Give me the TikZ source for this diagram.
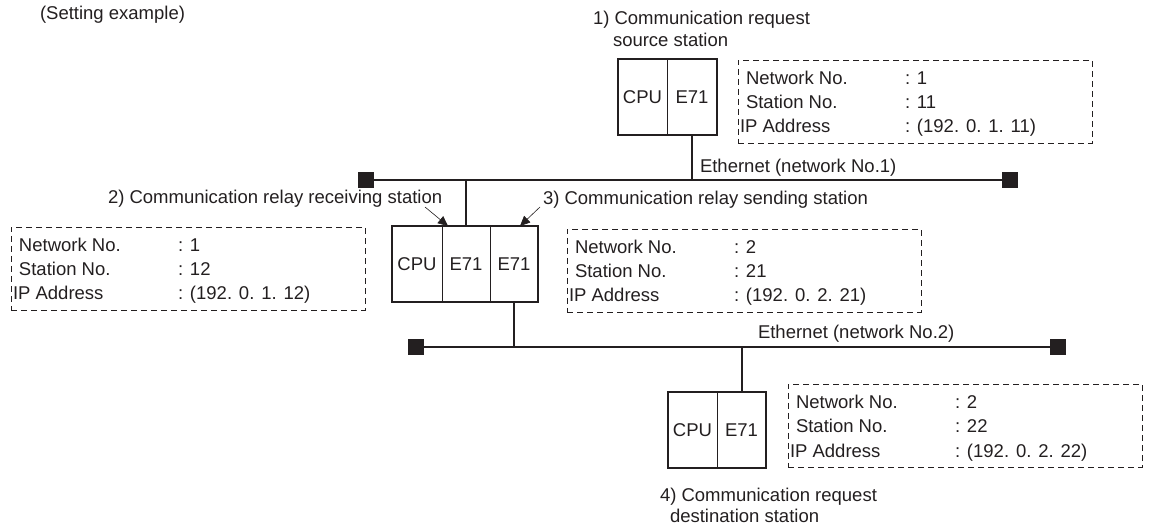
\documentclass[tikz,border=0pt]{standalone}
\usepackage{fontspec}
\setmainfont{Liberation Sans}
\usetikzlibrary{arrows.meta,calc}
\definecolor{ink}{HTML}{231F20}
\newcommand{\infobox}[6]{%
  \node[info] (#1) at (#2,#3) {};
  \node[lbl] (#1-nl) at ($(#1.north west)+(8,25)$) {Network No.};
  \node[lbl] (#1-sl) at ($(#1.north west)+(8,49)$) {Station No.};
  \node[lbl] (#1-il) at ($(#1.north west)+(2,73)$) {IP Address};
  \node[lbl] (#1-nv) at ($(#1.north west)+(167,25)$) {: #4};
  \node[lbl] (#1-sv) at ($(#1.north west)+(167,49)$) {: #5};
  \node[lbl] (#1-iv) at ($(#1.north west)+(167,73)$) {: (#6)};
}
\begin{document}
\begin{tikzpicture}[x=1pt,y=-1pt,
  every node/.style={font=\fontsize{18.5}{22}\selectfont, text=ink, inner sep=0pt, outer sep=0pt},
  cell/.style={draw=ink, line width=0.8pt, minimum height=76pt, anchor=north west},
  frame/.style={draw=ink, line width=2pt},
  bus/.style={draw=ink, line width=2pt},
  term/.style={fill=ink, minimum width=16pt, minimum height=16pt},
  info/.style={draw=ink, dash pattern=on 6pt off 4pt, line width=0.8pt, minimum width=354pt, minimum height=83pt, anchor=north west},
  lbl/.style={anchor=base west},
  pointer/.style={draw=ink, line width=0.6pt, -{Triangle[length=10pt,width=9pt]}}
]
\useasboundingbox (0,0) rectangle (1149,526);

% labels
\node[lbl] (title) at (40,19.5) {(Setting example)};
\node[lbl] (l1a) at (593,24.5) {1) Communication request};
\node[lbl] (l1b) at (613,46.5) {source station};
\node[lbl] (l2) at (108,203.5) {2) Communication relay receiving station};
\node[lbl] (l3) at (543,204.5) {3) Communication relay sending station};
\node[lbl] (n1) at (700,173) {Ethernet (network No.1)};
\node[lbl] (n2) at (758,339) {Ethernet (network No.2)};
\node[lbl] (l4a) at (660,501) {4) Communication request};
\node[lbl] (l4b) at (670,522) {destination station};

% station 1
\node[cell, minimum width=49pt] (c1) at (618,59) {CPU};
\node[cell, minimum width=50pt] (e1) at (c1.north east) {E71};
\draw[frame] (c1.north west) rectangle (e1.south east);

% station 2/3
\node[cell, minimum width=50pt] (c2) at (392,226) {CPU};
\node[cell, minimum width=48pt] (e2a) at (c2.north east) {E71};
\node[cell, minimum width=48pt] (e2b) at (e2a.north east) {E71};
\draw[frame] (c2.north west) rectangle (e2b.south east);

% station 4
\node[cell, minimum width=49pt] (c4) at (668,392) {CPU};
\node[cell, minimum width=49pt] (e4) at (c4.north east) {E71};
\draw[frame] (c4.north west) rectangle (e4.south east);

% buses
\node[term] (t1l) at (366,180) {};
\node[term] (t1r) at (1010,180) {};
\draw[bus] (t1l) -- (t1r);
\node[term] (t2l) at (416,347) {};
\node[term] (t2r) at (1058,347) {};
\draw[bus] (t2l) -- (t2r);

\draw[bus] (e1.south) -- (e1.south |- t1l);
\draw[bus] (e2a.north) -- (e2a.north |- t1l);
\draw[bus] (e2b.south) -- (e2b.south |- t2l);
\draw[bus] (e4.north) -- (e4.north |- t2l);

% pointers
\coordinate (a2) at (425,207);
\coordinate (a3) at (540,207);
\draw[pointer] (a2) -- ($(e2a.north west)+(6,0)$);
\draw[pointer] (a3) -- ($(e2b.north)+(6,0)$);

% info boxes
\infobox{i1}{738}{60}{1}{11}{192. 0. 1. 11}
\infobox{i2}{11}{227}{1}{12}{192. 0. 1. 12}
\infobox{i3}{567}{229}{2}{21}{192. 0. 2. 21}
\infobox{i4}{788}{384}{2}{22}{192. 0. 2. 22}
\end{tikzpicture}
\end{document}
